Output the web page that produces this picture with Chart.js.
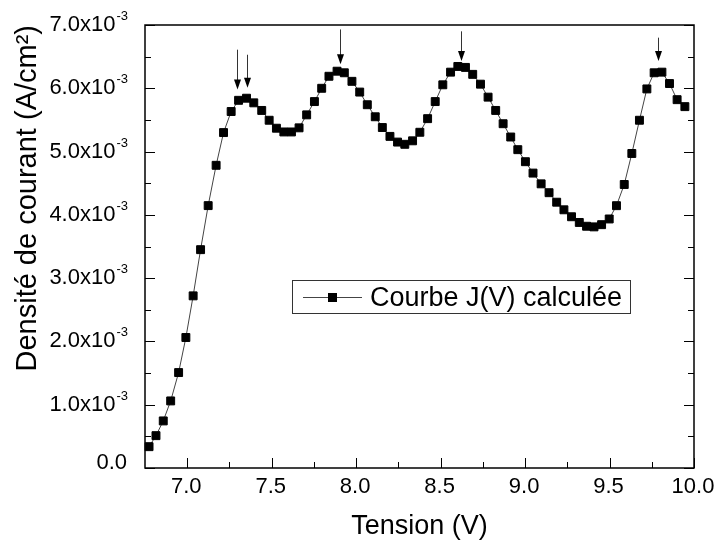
<!DOCTYPE html>
<html>
<head>
<meta charset="utf-8">
<script src="https://cdn.jsdelivr.net/npm/chart.js@4/dist/chart.umd.min.js"></script>
<style>
  html, body { margin: 0; padding: 0; background: #fff; }
  #wrap { width: 718px; height: 540px; }
</style>
</head>
<body>
<div id="wrap"><canvas id="chart" width="718" height="540"></canvas></div>
<script>
// Tension (V)
const tension = [
  6.774, 6.815, 6.858, 6.902, 6.949, 6.992, 7.035, 7.079, 7.124, 7.171,
  7.215, 7.260, 7.304, 7.351, 7.394, 7.441, 7.485, 7.528, 7.572, 7.617,
  7.662, 7.707, 7.753, 7.796, 7.839, 7.887, 7.930, 7.975, 8.021, 8.066,
  8.113, 8.155, 8.200, 8.245, 8.288, 8.334, 8.377, 8.423, 8.468, 8.513,
  8.559, 8.602, 8.647, 8.690, 8.736, 8.781, 8.826, 8.870, 8.915, 8.957,
  9.002, 9.047, 9.095, 9.142, 9.187, 9.230, 9.275, 9.321, 9.364, 9.408,
  9.453, 9.498, 9.541, 9.587, 9.632, 9.677, 9.721, 9.764, 9.810, 9.855,
  9.900, 9.946
];
// Densite de courant, in units of 1e-3 A/cm2
const density = [
  0.337, 0.511, 0.744, 1.06, 1.508, 2.062, 2.72, 3.45, 4.146, 4.783,
  5.30, 5.633, 5.81, 5.843, 5.77, 5.65, 5.495, 5.369, 5.31, 5.31,
  5.375, 5.58, 5.79, 6.0, 6.19, 6.27, 6.245, 6.11, 5.94, 5.74,
  5.55, 5.38, 5.24, 5.15, 5.115, 5.17, 5.305, 5.52, 5.79, 6.055,
  6.255, 6.345, 6.33, 6.22, 6.065, 5.86, 5.65, 5.44, 5.23, 5.03,
  4.84, 4.66, 4.49, 4.35, 4.20, 4.08, 3.97, 3.88, 3.82, 3.81,
  3.845, 3.935, 4.145, 4.48, 4.97, 5.495, 5.99, 6.245, 6.255, 6.075,
  5.82, 5.71
];

const xTicks = [7.0, 7.5, 8.0, 8.5, 9.0, 9.5, 10.0];
const xTickLabels = ['7.0', '7.5', '8.0', '8.5', '9.0', '9.5', '10.0'];
const xMinorTicks = [7.25, 7.75, 8.25, 8.75, 9.25, 9.75];
const yTicks = [0, 1, 2, 3, 4, 5, 6, 7];
const yTickLabels = ['0.0', '1.0x10', '2.0x10', '3.0x10', '4.0x10', '5.0x10', '6.0x10', '7.0x10'];
const yTickExponents = ['', '-3', '-3', '-3', '-3', '-3', '-3', '-3'];
const yMinorTicks = [0.5, 1.5, 2.5, 3.5, 4.5, 5.5, 6.5];

// arrows marking the peaks
const arrowX = [7.292, 7.351, 7.902, 8.618, 9.788];
const arrowTop = [6.61, 6.53, 6.93, 6.90, 6.80];
const arrowTip = [5.98, 6.01, 6.38, 6.43, 6.43];

const legendLabel = 'Courbe J(V) calculée';
const FONT = '"Liberation Sans", Arial, sans-serif';

const axesPlugin = {
  id: 'axesPlugin',
  afterDatasetsDraw(chart) {
    const { ctx, chartArea: a, scales: { x, y } } = chart;
    ctx.save();

    // arrows
    ctx.strokeStyle = '#333';
    ctx.fillStyle = '#000';
    ctx.lineWidth = 1;
    arrowX.forEach((v, i) => {
      const px = Math.round(x.getPixelForValue(v)) + 0.5;
      const top = y.getPixelForValue(arrowTop[i]);
      const tip = y.getPixelForValue(arrowTip[i]);
      ctx.beginPath();
      ctx.moveTo(px, top);
      ctx.lineTo(px, tip - 8);
      ctx.stroke();
      ctx.beginPath();
      ctx.moveTo(px - 3.5, tip - 10);
      ctx.lineTo(px + 3.5, tip - 10);
      ctx.lineTo(px, tip);
      ctx.closePath();
      ctx.fill();
    });

    // frame
    ctx.strokeStyle = '#000';
    ctx.lineWidth = 1.5;
    ctx.strokeRect(a.left, a.top, a.right - a.left, a.bottom - a.top);

    // inward ticks
    ctx.lineWidth = 1;
    ctx.beginPath();
    xTicks.forEach(v => {
      const p = Math.round(x.getPixelForValue(v)) + 0.5;
      ctx.moveTo(p, a.bottom); ctx.lineTo(p, a.bottom - 10);
    });
    xMinorTicks.forEach(v => {
      const p = Math.round(x.getPixelForValue(v)) + 0.5;
      ctx.moveTo(p, a.bottom); ctx.lineTo(p, a.bottom - 6);
    });
    yTicks.forEach(v => {
      const p = Math.round(y.getPixelForValue(v)) + 0.5;
      ctx.moveTo(a.left, p); ctx.lineTo(a.left + 10, p);
      ctx.moveTo(a.right, p); ctx.lineTo(a.right - 10, p);
    });
    yMinorTicks.forEach(v => {
      const p = Math.round(y.getPixelForValue(v)) + 0.5;
      ctx.moveTo(a.left, p); ctx.lineTo(a.left + 6, p);
      ctx.moveTo(a.right, p); ctx.lineTo(a.right - 6, p);
    });
    ctx.stroke();

    // tick labels
    ctx.fillStyle = '#000';
    ctx.font = '22px ' + FONT;
    ctx.textAlign = 'center';
    ctx.textBaseline = 'alphabetic';
    xTicks.forEach((v, i) => {
      ctx.fillText(xTickLabels[i], x.getPixelForValue(v) - 1, a.bottom + 25);
    });

    const labelRight = a.left - 18;
    yTicks.forEach((v, i) => {
      const p = y.getPixelForValue(v);
      const exp = yTickExponents[i];
      ctx.font = '13px ' + FONT;
      const expW = exp ? ctx.measureText(exp).width : 0;
      ctx.textAlign = 'left';
      ctx.textBaseline = 'alphabetic';
      if (exp) ctx.fillText(exp, labelRight - expW + 1, p - 5);
      ctx.font = '22px ' + FONT;
      ctx.textAlign = 'right';
      ctx.textBaseline = 'middle';
      ctx.fillText(yTickLabels[i], labelRight - expW, exp ? p : p - 5);
    });

    // legend box
    const lx = a.left + 147, ly = a.top + 255, lw = 338, lh = 33;
    ctx.fillStyle = '#fff';
    ctx.fillRect(lx, ly, lw, lh);
    ctx.strokeStyle = '#333';
    ctx.lineWidth = 1;
    ctx.strokeRect(lx + 0.5, ly + 0.5, lw, lh);
    const cy = ly + 17.5;
    ctx.strokeStyle = '#444';
    ctx.beginPath();
    ctx.moveTo(lx + 11, cy); ctx.lineTo(lx + 70, cy);
    ctx.stroke();
    ctx.fillStyle = '#000';
    ctx.fillRect(lx + 36, cy - 4.5, 9, 9);
    ctx.font = '27px ' + FONT;
    ctx.textAlign = 'left';
    ctx.textBaseline = 'middle';
    ctx.fillText(legendLabel, lx + 78, cy + 1);

    ctx.restore();
  }
};

new Chart(document.getElementById('chart'), {
  type: 'scatter',
  data: {
    datasets: [{
      label: legendLabel,
      data: tension.map((v, i) => ({ x: v, y: density[i] })),
      showLine: true,
      borderColor: '#444',
      borderWidth: 1,
      pointStyle: 'rect',
      pointRadius: 5.6,
      pointBorderWidth: 1,
      pointBackgroundColor: '#000',
      pointBorderColor: '#000',
      clip: false
    }]
  },
  options: {
    responsive: false,
    animation: false,
    devicePixelRatio: 1,
    layout: { padding: { left: 0, right: 24, top: 25, bottom: 0 } },
    plugins: {
      legend: { display: false },
      tooltip: { enabled: false }
    },
    scales: {
      x: {
        type: 'linear',
        min: 6.75,
        max: 10.0,
        grid: { display: false },
        border: { display: false },
        ticks: { display: false },
        title: {
          display: true,
          text: 'Tension (V)',
          color: '#000',
          font: { family: FONT, size: 27, lineHeight: 1 },
          padding: { top: 0, bottom: 0 }
        },
        afterFit: (scale) => { scale.height = 72; }
      },
      y: {
        type: 'linear',
        min: 0,
        max: 7,
        grid: { display: false },
        border: { display: false },
        ticks: { display: false },
        title: {
          display: true,
          text: 'Densité de courant (A/cm²)',
          align: 'end',
          color: '#000',
          font: { family: FONT, size: 29, lineHeight: 1 },
          padding: { top: 13, bottom: 0 }
        },
        afterFit: (scale) => { scale.width = 145; }
      }
    }
  },
  plugins: [axesPlugin]
});
</script>
</body>
</html>
